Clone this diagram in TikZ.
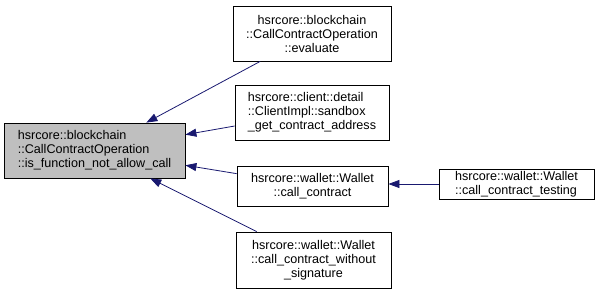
\documentclass[tikz,border=0pt]{standalone}
\usepackage{fontspec}
\setmainfont{Liberation Sans}
\usetikzlibrary{arrows.meta}
\definecolor{edgeblue}{RGB}{25,25,112}
\definecolor{focusgray}{RGB}{191,191,191}
\begin{document}
\begin{tikzpicture}[x=1pt,y=-1pt,
  box/.style={draw=black, line width=0.8pt, fill=white, inner sep=0pt,
    font=\fontsize{12.6}{14}\selectfont, text=black},
  focus/.style={box, fill=focusgray},
  edge/.style={draw=edgeblue, line width=0.8pt,
    -{Triangle[length=11pt,width=8pt]}}]
  \useasboundingbox (0,0) rectangle (595,293);

  % caller graph of the focus function
  \node[focus, align=left, minimum width=181pt, minimum height=55pt] (main) at (94.5,150.5)
    {hsrcore::blockchain\\::CallContractOperation\\::is\_function\_not\_allow\_call};

  \node[box, align=center, minimum width=158pt, minimum height=55pt] (eval) at (312,33.5)
    {hsrcore::blockchain\\::CallContractOperation\\::evaluate};
  \node[box, align=left, minimum width=154pt, minimum height=55pt] (sandbox) at (312,112.5)
    {hsrcore::client::detail\\::ClientImpl::sandbox\\\_get\_contract\_address};
  \node[box, align=center, minimum width=151pt, minimum height=40pt] (callc) at (312.5,186)
    {hsrcore::wallet::Wallet\\::call\_contract};
  \node[box, align=center, minimum width=155pt, minimum height=56pt] (nosig) at (313.5,260)
    {hsrcore::wallet::Wallet\\::call\_contract\_without\\\_signature};
  \node[box, align=left, minimum width=155pt, minimum height=30pt] (testing) at (516.5,184)
    {hsrcore::wallet::Wallet\\::call\_contract\_testing};

  \draw[edge] (eval) -- (main);
  \draw[edge] (sandbox) -- (main);
  \draw[edge] (callc) -- (main);
  \draw[edge] (nosig) -- (main);
  \draw[edge] (testing) -- (testing.west -| callc.east);
\end{tikzpicture}
\end{document}
